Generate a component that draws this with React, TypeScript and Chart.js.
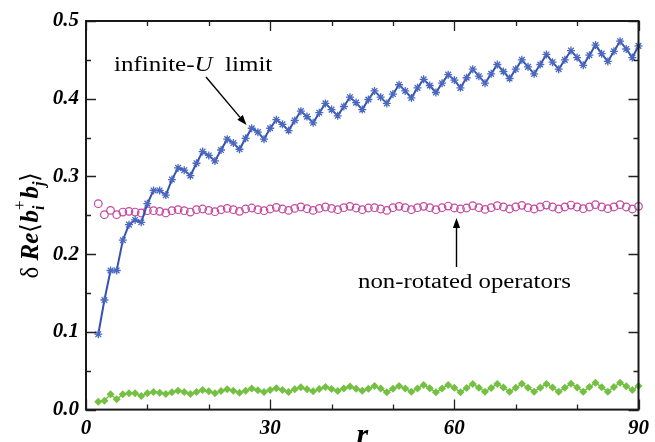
import { useEffect, useRef } from "react";
import { Chart, registerables } from "chart.js";

Chart.register(...registerables);

// separation r = 2 ... 90
const R_FIRST = 2;

// infinite-U limit
const infiniteU = [
  0.097, 0.141, 0.179, 0.179, 0.218, 0.238, 0.244, 0.241, 0.265, 0.282,
  0.282, 0.276, 0.296, 0.311, 0.308, 0.301, 0.317, 0.332, 0.327, 0.320,
  0.334, 0.348, 0.343, 0.335, 0.349, 0.362, 0.357, 0.348, 0.362, 0.373,
  0.367, 0.359, 0.372, 0.384, 0.377, 0.369, 0.382, 0.394, 0.386, 0.378,
  0.390, 0.402, 0.395, 0.386, 0.399, 0.410, 0.402, 0.394, 0.406, 0.418,
  0.410, 0.401, 0.414, 0.425, 0.417, 0.408, 0.420, 0.431, 0.424, 0.414,
  0.427, 0.438, 0.429, 0.420, 0.432, 0.444, 0.435, 0.426, 0.438, 0.450,
  0.441, 0.432, 0.444, 0.457, 0.447, 0.438, 0.450, 0.462, 0.453, 0.443,
  0.456, 0.469, 0.458, 0.448, 0.461, 0.474, 0.464, 0.453, 0.468,
];

// non-rotated operators
const nonRotated = [
  0.2649, 0.2508, 0.2563, 0.2508, 0.2542, 0.2551, 0.2542, 0.2530, 0.2559, 0.2559,
  0.2551, 0.2530, 0.2559, 0.2572, 0.2559, 0.2542, 0.2572, 0.2581, 0.2563, 0.2546,
  0.2572, 0.2589, 0.2572, 0.2551, 0.2581, 0.2594, 0.2572, 0.2559, 0.2581, 0.2602,
  0.2581, 0.2563, 0.2589, 0.2607, 0.2585, 0.2563, 0.2589, 0.2607, 0.2589, 0.2572,
  0.2598, 0.2615, 0.2594, 0.2572, 0.2594, 0.2598, 0.2581, 0.2563, 0.2598, 0.2615,
  0.2598, 0.2572, 0.2598, 0.2615, 0.2598, 0.2572, 0.2598, 0.2619, 0.2594, 0.2581,
  0.2594, 0.2624, 0.2598, 0.2576, 0.2598, 0.2624, 0.2607, 0.2581, 0.2607, 0.2628,
  0.2598, 0.2581, 0.2607, 0.2632, 0.2607, 0.2581, 0.2607, 0.2632, 0.2607, 0.2585,
  0.2607, 0.2637, 0.2607, 0.2585, 0.2607, 0.2637, 0.2607, 0.2581, 0.2615,
];

// rotated operators
const rotated = [
  0.0102, 0.0115, 0.0197, 0.0132, 0.0197, 0.0210, 0.0210, 0.0175, 0.0210, 0.0227,
  0.0218, 0.0201, 0.0223, 0.0244, 0.0227, 0.0201, 0.0227, 0.0253, 0.0235, 0.0210,
  0.0240, 0.0261, 0.0244, 0.0218, 0.0244, 0.0270, 0.0248, 0.0227, 0.0253, 0.0274,
  0.0253, 0.0227, 0.0261, 0.0287, 0.0261, 0.0235, 0.0265, 0.0291, 0.0265, 0.0240,
  0.0270, 0.0296, 0.0268, 0.0244, 0.0268, 0.0304, 0.0270, 0.0223, 0.0268, 0.0304,
  0.0272, 0.0231, 0.0272, 0.0317, 0.0274, 0.0223, 0.0272, 0.0317, 0.0280, 0.0223,
  0.0278, 0.0330, 0.0281, 0.0231, 0.0279, 0.0330, 0.0283, 0.0231, 0.0280, 0.0332,
  0.0281, 0.0231, 0.0282, 0.0330, 0.0284, 0.0231, 0.0281, 0.0333, 0.0285, 0.0231,
  0.0290, 0.0347, 0.0289, 0.0231, 0.0291, 0.0347, 0.0300, 0.0253, 0.0304,
];

const xTickLabels = [0, 30, 60, 90];
const xMinorStep = 10;
const yTickLabels = [0, 0.1, 0.2, 0.3, 0.4, 0.5];
const yMinorStep = 0.05;

const SERIF = '"Liberation Serif", "Times New Roman", serif';

const toPoints = (vals: number[]) =>
  vals.map((v, i) => ({ x: R_FIRST + i, y: v }));

function arrow(ctx: CanvasRenderingContext2D, x0: number, y0: number, x1: number, y1: number) {
  const ang = Math.atan2(y1 - y0, x1 - x0);
  const head = 10;
  const half = 3.6;
  ctx.save();
  ctx.strokeStyle = "#000";
  ctx.fillStyle = "#000";
  ctx.lineWidth = 1.4;
  ctx.beginPath();
  ctx.moveTo(x0, y0);
  ctx.lineTo(x1 - head * Math.cos(ang), y1 - head * Math.sin(ang));
  ctx.stroke();
  ctx.beginPath();
  ctx.moveTo(x1, y1);
  ctx.lineTo(
    x1 - head * Math.cos(ang) + half * Math.sin(ang),
    y1 - head * Math.sin(ang) - half * Math.cos(ang)
  );
  ctx.lineTo(
    x1 - head * Math.cos(ang) - half * Math.sin(ang),
    y1 - head * Math.sin(ang) + half * Math.cos(ang)
  );
  ctx.closePath();
  ctx.fill();
  ctx.restore();
}

// text runs drawn left to right, horizontally stretched like the figure's lettering
function drawRuns(
  ctx: CanvasRenderingContext2D,
  x: number,
  y: number,
  runs: [string, string][],
  stretch: number
) {
  ctx.save();
  ctx.translate(x, y);
  ctx.scale(stretch, 1);
  ctx.fillStyle = "#000";
  ctx.textBaseline = "alphabetic";
  ctx.textAlign = "left";
  let cx = 0;
  for (const [t, f] of runs) {
    ctx.font = f;
    ctx.fillText(t, cx, 0);
    cx += ctx.measureText(t).width;
  }
  ctx.restore();
}

const decorations = {
  id: "decorations",
  afterDatasetsDraw(chart: any) {
    const ctx: CanvasRenderingContext2D = chart.ctx;
    const { left, right, top, bottom } = chart.chartArea;
    const xs = chart.scales.x;
    const ys = chart.scales.y;

    ctx.save();
    ctx.strokeStyle = "#222";
    ctx.lineWidth = 1.3;
    // inward ticks on all four sides
    ctx.beginPath();
    for (let v = xs.min; v <= xs.max + 1e-9; v += xMinorStep) {
      const px = Math.round(xs.getPixelForValue(v)) + 0.5;
      const len = xTickLabels.includes(v) ? 10 : 5;
      ctx.moveTo(px, bottom);
      ctx.lineTo(px, bottom - len);
      ctx.moveTo(px, top);
      ctx.lineTo(px, top + len);
    }
    for (let k = 0; k * yMinorStep <= ys.max + 1e-9; k++) {
      const v = k * yMinorStep;
      const py = Math.round(ys.getPixelForValue(v)) + 0.5;
      const len = k % 2 === 0 ? 10 : 5;
      ctx.moveTo(left, py);
      ctx.lineTo(left + len, py);
      ctx.moveTo(right, py);
      ctx.lineTo(right - len, py);
    }
    ctx.stroke();

    // frame
    ctx.lineWidth = 2;
    ctx.strokeStyle = "#1a1a1a";
    ctx.strokeRect(left, top, right - left, bottom - top);
    ctx.restore();

    // annotations
    drawRuns(
      ctx,
      114,
      71,
      [
        ["infinite-", `20px ${SERIF}`],
        ["U", `italic 20px ${SERIF}`],
        ["  limit", `20px ${SERIF}`],
      ],
      1.25
    );
    arrow(ctx, 206, 77, 246.5, 125);

    drawRuns(ctx, 358, 288, [["non-rotated operators", `20px ${SERIF}`]], 1.24);
    arrow(ctx, 456.5, 267, 456.5, 218);

    // x axis title
    ctx.save();
    ctx.fillStyle = "#000";
    ctx.font = `bold italic 30px ${SERIF}`;
    ctx.textAlign = "center";
    ctx.textBaseline = "alphabetic";
    ctx.fillText("r", (left + right) / 2, 444);
    ctx.restore();

    // y axis title: δ Re⟨b_i^+ b_j⟩
    ctx.save();
    ctx.fillStyle = "#000";
    ctx.textBaseline = "alphabetic";
    ctx.textAlign = "left";
    const main = `bold italic 25px ${SERIF}`;
    const reg = `25px ${SERIF}`;
    const small = `bold italic 16px ${SERIF}`;
    const sup = `17px ${SERIF}`;
    const w = (t: string, f: string) => {
      ctx.font = f;
      return ctx.measureText(t).width;
    };
    const total =
      w("δ ", reg) + w("Re", main) + w("⟨", reg) + w("b", main) +
      Math.max(w("i", small), w("+", sup)) + 2 + w("b", main) + w("j", small) + w("⟩", reg);
    ctx.translate(38, 225);
    ctx.rotate(-Math.PI / 2);
    let u = -total / 2;
    const put = (t: string, f: string, dv = 0) => {
      ctx.font = f;
      ctx.fillText(t, u, dv);
      return ctx.measureText(t).width;
    };
    u += put("δ ", reg);
    u += put("Re", main);
    u += put("⟨", reg);
    u += put("b", main);
    const wi = put("i", small, 6);
    const wp = put("+", sup, -13);
    u += Math.max(wi, wp) + 2;
    u += put("b", main);
    u += put("j", small, 6);
    put("⟩", reg);
    ctx.restore();
  },
};

export default function App() {
  const canvasRef = useRef<HTMLCanvasElement | null>(null);

  useEffect(() => {
    const canvas = canvasRef.current;
    if (!canvas) return;

    const chart = new Chart(canvas, {
      type: "line",
      data: {
        datasets: [
          {
            label: "infinite-U limit",
            data: toPoints(infiniteU),
            borderColor: "#3553ad",
            backgroundColor: "#3553ad",
            borderWidth: 2,
            pointStyle: "star",
            pointRadius: 4,
            pointBorderWidth: 1.3,
            pointBorderColor: "#4a68c0",
            tension: 0,
            clip: false,
            order: 0,
          },
          {
            label: "non-rotated operators",
            data: toPoints(nonRotated),
            showLine: false,
            borderColor: "#c4479f",
            backgroundColor: "rgba(255,255,255,0)",
            pointStyle: "circle",
            pointRadius: 3.8,
            pointBorderWidth: 1.2,
            pointBorderColor: "#c4479f",
            clip: false,
            order: 1,
          },
          {
            label: "rotated operators",
            data: toPoints(rotated),
            borderColor: "#74c043",
            backgroundColor: "#74c043",
            borderWidth: 1.5,
            pointStyle: "rectRot",
            pointRadius: 4,
            pointBorderWidth: 0,
            pointBackgroundColor: "#74c043",
            tension: 0,
            clip: false,
            order: 2,
          },
        ],
      },
      options: {
        responsive: false,
        animation: false,
        devicePixelRatio: 1,
        layout: { padding: { top: 21, right: 14, left: 0, bottom: 0 } },
        plugins: {
          legend: { display: false },
          tooltip: { enabled: false },
        },
        scales: {
          x: {
            type: "linear",
            min: 0,
            max: 90,
            afterFit: (s: any) => {
              s.height = 32.4;
            },
            grid: { display: false, drawTicks: false },
            border: { display: false },
            afterBuildTicks: (s: any) => {
              s.ticks = xTickLabels.map((v) => ({ value: v }));
            },
            ticks: {
              padding: 6,
              color: "#000",
              font: { family: SERIF, size: 21, weight: "bold", style: "italic" },
              maxRotation: 0,
              callback: (v: any) => String(v),
            },
          },
          y: {
            type: "linear",
            min: 0,
            max: 0.5,
            afterFit: (s: any) => {
              s.width = 86;
            },
            grid: { display: false, drawTicks: false },
            border: { display: false },
            afterBuildTicks: (s: any) => {
              s.ticks = yTickLabels.map((v) => ({ value: v }));
            },
            ticks: {
              padding: 7,
              color: "#000",
              font: { family: SERIF, size: 21, weight: "bold", style: "italic" },
              callback: (v: any) => Number(v).toFixed(1),
            },
          },
        },
      },
      plugins: [decorations],
    });

    return () => chart.destroy();
  }, []);

  return (
    <div
      style={{
        position: "fixed",
        left: 0,
        top: 0,
        width: 655,
        height: 442,
        background: "#fff",
      }}
    >
      <canvas ref={canvasRef} width={655} height={442} />
    </div>
  );
}
